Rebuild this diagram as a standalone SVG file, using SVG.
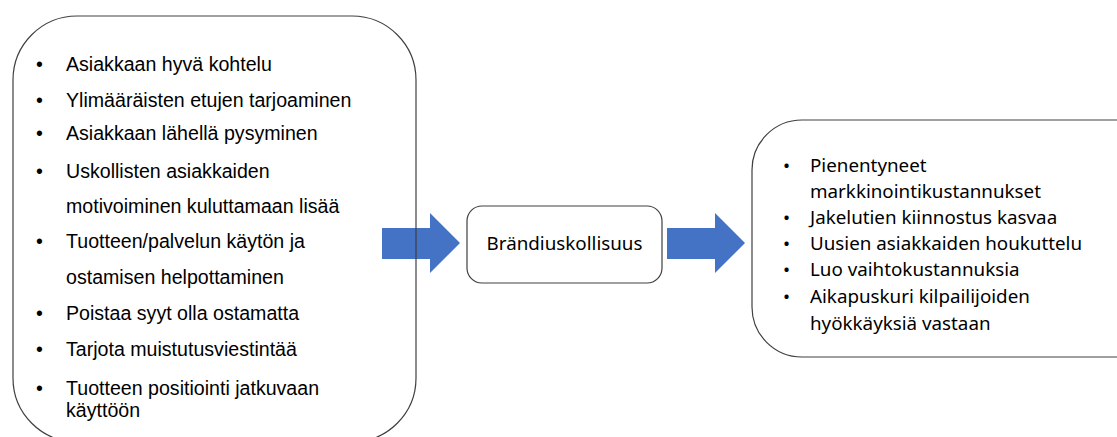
<svg xmlns="http://www.w3.org/2000/svg" width="1117" height="437" viewBox="0 0 1117 437">
  <defs>
    <style>
      .box { fill: none; stroke: #404040; stroke-width: 1.2; }
      .arrow { fill: #4472c4; }
      .lt { font-family: "Liberation Sans", Arial, sans-serif; font-size: 19.6px; fill: #000000; }
      .ct { font-family: "Noto Sans", "Open Sans", sans-serif; font-size: 18.8px; fill: #000000; }
    </style>
  </defs>

  <rect x="0" y="0" width="1117" height="437" fill="#ffffff"/>

  <!-- connectors: block arrows -->
  <g id="connectors">
    <polygon class="arrow" points="382,228 430,228 430,213 460,243 430,273 430,259 382,259"/>
    <polygon class="arrow" points="667,228 715,228 715,213 745,243 715,273 715,259 667,259"/>
  </g>

  <!-- actions that build loyalty -->
  <g id="actions">
    <rect class="box" x="13" y="16" width="403" height="426" rx="64" ry="64"/>
    <g class="lt">
      <text x="36" y="71">•</text><text x="66" y="71">Asiakkaan hyvä kohtelu</text>
      <text x="36" y="107">•</text><text x="66" y="107">Ylimääräisten etujen tarjoaminen</text>
      <text x="36" y="140">•</text><text x="66" y="140">Asiakkaan lähellä pysyminen</text>
      <text x="36" y="178">•</text><text x="66" y="178">Uskollisten asiakkaiden</text>
      <text x="66" y="213">motivoiminen kuluttamaan lisää</text>
      <text x="36" y="248">•</text><text x="66" y="248">Tuotteen/palvelun käytön ja</text>
      <text x="66" y="284">ostamisen helpottaminen</text>
      <text x="36" y="320">•</text><text x="66" y="320">Poistaa syyt olla ostamatta</text>
      <text x="36" y="356">•</text><text x="66" y="356">Tarjota muistutusviestintää</text>
      <text x="36" y="395">•</text><text x="66" y="395">Tuotteen positiointi jatkuvaan</text>
      <text x="66" y="417">käyttöön</text>
    </g>
  </g>

  <!-- central concept -->
  <g id="loyalty">
    <rect class="box" x="467" y="206" width="195" height="77" rx="15" ry="15"/>
    <text class="ct" x="564.5" y="250" text-anchor="middle">Brändiuskollisuus</text>
  </g>

  <!-- benefits of loyalty -->
  <g id="benefits">
    <rect class="box" x="752" y="120" width="420" height="237" rx="50" ry="50"/>
    <g class="ct">
      <text x="783" y="172">•</text><text x="810" y="172">Pienentyneet</text>
      <text x="810" y="198">markkinointikustannukset</text>
      <text x="783" y="224">•</text><text x="810" y="224">Jakelutien kiinnostus kasvaa</text>
      <text x="783" y="250">•</text><text x="810" y="250">Uusien asiakkaiden houkuttelu</text>
      <text x="783" y="276">•</text><text x="810" y="276">Luo vaihtokustannuksia</text>
      <text x="783" y="303">•</text><text x="810" y="303">Aikapuskuri kilpailijoiden</text>
      <text x="810" y="330">hyökkäyksiä vastaan</text>
    </g>
  </g>
</svg>
